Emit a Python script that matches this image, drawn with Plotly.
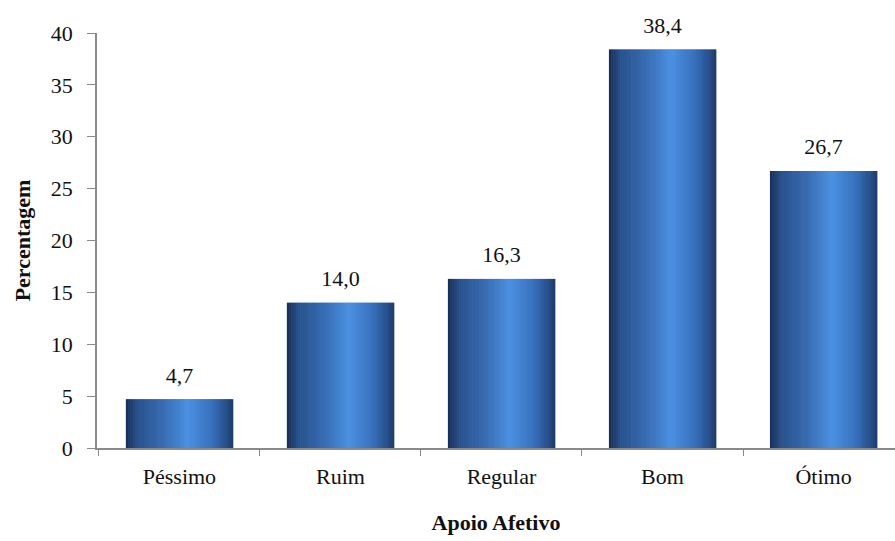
import plotly.graph_objects as go

categories = ["Péssimo", "Ruim", "Regular", "Bom", "Ótimo"]
values = [4.7, 14.0, 16.3, 38.4, 26.7]
labels = [f"{v:.1f}".replace(".", ",") for v in values]

# gradient stops across bar width (position, rgb)
stops = [(0.0, (24, 44, 80)), (0.10, (40, 80, 138)), (0.35, (56, 108, 178)),
         (0.58, (76, 145, 226)), (0.80, (56, 112, 188)), (0.93, (40, 80, 140)), (1.0, (30, 58, 104))]

def color_at(t):
    for (p0, c0), (p1, c1) in zip(stops[:-1], stops[1:]):
        if p0 <= t <= p1:
            f = (t - p0) / (p1 - p0)
            c = [round(a + (b - a) * f) for a, b in zip(c0, c1)]
            return f"rgb({c[0]},{c[1]},{c[2]})"
    return "rgb(30,58,104)"

bar_w = 0.665
N = 48
FONT = "Liberation Serif"

fig = go.Figure()
fig.add_trace(go.Bar(x=categories, y=values, width=bar_w, marker=dict(color=color_at(0.5), line=dict(width=0)),
                     hoverinfo="skip", showlegend=False))
sw = bar_w / N
for i in range(N):
    t = (i + 0.5) / N
    fig.add_trace(go.Bar(x=categories, y=values, width=sw * 1.15, offset=-bar_w / 2 + i * sw,
                         marker=dict(color=color_at(t), line=dict(width=0)),
                         hoverinfo="skip", showlegend=False))
fig.add_trace(go.Scatter(x=categories, y=values, mode="markers+text", text=labels, textposition="top center",
                         marker=dict(size=16, opacity=0),
                         textfont=dict(family=FONT, size=22, color="#111"), showlegend=False, cliponaxis=False,
                         hoverinfo="skip"))

fig.update_layout(
    width=895, height=541, barmode="overlay",
    margin=dict(l=97, r=0, t=33, b=93),
    paper_bgcolor="white", plot_bgcolor="white",
    font=dict(family=FONT, size=22, color="#111"),
    xaxis=dict(range=[-0.512, 4.444], showline=True, linecolor="#8a8a8a", linewidth=1.5,
               ticks="outside", tickson="boundaries", ticklen=6, tickcolor="#8a8a8a",
               ticklabelstandoff=8, showgrid=False, zeroline=False,
               tickfont=dict(family=FONT, size=22),
               title=dict(text="<b>Apoio Afetivo</b>", font=dict(family=FONT, size=22), standoff=26)),
    yaxis=dict(range=[0, 40], dtick=5, showline=True, linecolor="#8a8a8a", linewidth=1.5,
               ticks="outside", ticklen=8, tickcolor="#8a8a8a", ticklabelstandoff=10,
               showgrid=False, zeroline=False,
               tickfont=dict(family=FONT, size=22),
               title=dict(text="<b>Percentagem</b>", font=dict(family=FONT, size=22), standoff=14)),
)
fig.write_html("out.html")
